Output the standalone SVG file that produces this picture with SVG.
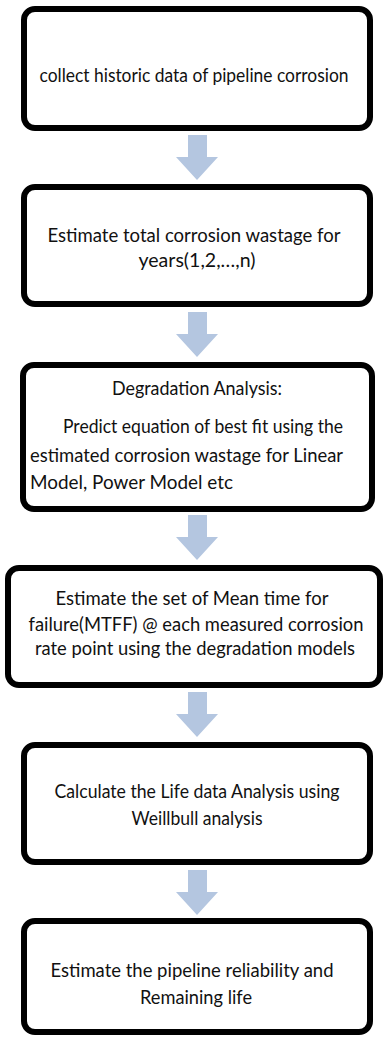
<svg xmlns="http://www.w3.org/2000/svg" width="385" height="1038" viewBox="0 0 385 1038">
  <style>
    .box { fill: #ffffff; stroke: #000000; stroke-width: 6; }
    .arrow { fill: #b4c6e0; }
    .t { font-family: Lato, "Open Sans", "Liberation Sans", sans-serif; font-size: 19.5px; fill: #111111; }
    .s { font-size: 18.5px; }
    .c { text-anchor: middle; }
  </style>
  <rect x="0" y="0" width="385" height="1038" fill="#ffffff"/>

  <!-- block arrows between the steps -->
  <g id="connectors">
    <polygon class="arrow" points="188,135 207,135 207,157 218,157 197,180 176,157 188,157"/>
    <polygon class="arrow" points="188,312 207,312 207,334 218,334 197,357 176,334 188,334"/>
    <polygon class="arrow" points="188,515 207,515 207,537 218,537 197,560 176,537 188,537"/>
    <polygon class="arrow" points="188,692 207,692 207,714 218,714 197,737 176,714 188,714"/>
    <polygon class="arrow" points="188,870 207,870 207,892 218,892 197,915 176,892 188,892"/>
  </g>

  <g id="step1">
    <rect class="box" x="24" y="9" width="346" height="119" rx="11"/>
    <text class="t s c" x="194" y="82" textLength="309" lengthAdjust="spacingAndGlyphs">collect historic data of pipeline corrosion</text>
  </g>

  <g id="step2">
    <rect class="box" x="24" y="187" width="346" height="117" rx="11"/>
    <text class="t c" x="194" y="242" textLength="293" lengthAdjust="spacingAndGlyphs">Estimate total corrosion wastage for</text>
    <text class="t c" x="197" y="267" textLength="117" lengthAdjust="spacingAndGlyphs">years(1,2,…,n)</text>
  </g>

  <g id="step3">
    <rect class="box" x="23" y="365" width="349" height="144" rx="11"/>
    <text class="t s c" x="197" y="395" textLength="170" lengthAdjust="spacingAndGlyphs">Degradation Analysis:</text>
    <text class="t" x="63" y="433" textLength="280" lengthAdjust="spacingAndGlyphs">Predict equation of best fit  using the</text>
    <text class="t" x="30" y="462" textLength="313" lengthAdjust="spacingAndGlyphs">estimated corrosion wastage  for Linear</text>
    <text class="t" x="30" y="489" textLength="203" lengthAdjust="spacingAndGlyphs">Model,  Power Model  etc</text>
  </g>

  <g id="step4">
    <rect class="box" x="8" y="568" width="372" height="117" rx="11"/>
    <text class="t c" x="192" y="605" textLength="273" lengthAdjust="spacingAndGlyphs">Estimate the set of  Mean time for</text>
    <text class="t c" x="196" y="631" textLength="335" lengthAdjust="spacingAndGlyphs">failure(MTFF)  @ each measured corrosion</text>
    <text class="t c" x="195" y="655" textLength="320" lengthAdjust="spacingAndGlyphs">rate  point using the degradation models</text>
  </g>

  <g id="step5">
    <rect class="box" x="24" y="745" width="346" height="117" rx="11"/>
    <text class="t c" x="197" y="798" textLength="285" lengthAdjust="spacingAndGlyphs">Calculate the Life data Analysis using</text>
    <text class="t c" x="197" y="825" textLength="131" lengthAdjust="spacingAndGlyphs">Weillbull analysis</text>
  </g>

  <g id="step6">
    <rect class="box" x="24" y="921" width="346" height="111" rx="11"/>
    <text class="t c" x="192" y="977" textLength="283" lengthAdjust="spacingAndGlyphs">Estimate the pipeline reliability and</text>
    <text class="t c" x="196" y="1004" textLength="112" lengthAdjust="spacingAndGlyphs">Remaining life</text>
  </g>
</svg>
